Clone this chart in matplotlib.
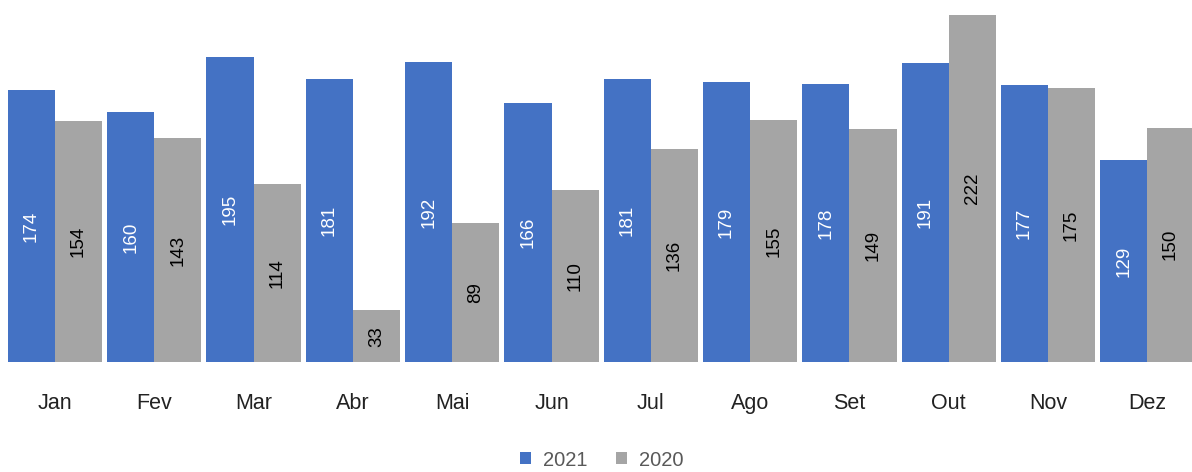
import numpy as np
import matplotlib.pyplot as plt

months = ['Jan', 'Fev', 'Mar', 'Abr', 'Mai', 'Jun', 'Jul', 'Ago', 'Set', 'Out', 'Nov', 'Dez']
values_2021 = [174, 160, 195, 181, 192, 166, 181, 179, 178, 191, 177, 129]
values_2020 = [154, 143, 114, 33, 89, 110, 136, 155, 149, 222, 175, 150]

BLUE = '#4472C4'
GRAY = '#A5A5A5'
WIDTH = 0.475

plt.rcParams['font.family'] = ['Liberation Sans', 'DejaVu Sans']

fig = plt.figure(figsize=(11.92, 4.72), dpi=100)
ax = fig.add_axes([0, 110 / 472, 1, 362 / 472])

x = np.arange(len(months))
bars_2021 = ax.bar(x - WIDTH / 2, values_2021, WIDTH, color=BLUE, label='2021')
bars_2020 = ax.bar(x + WIDTH / 2, values_2020, WIDTH, color=GRAY, label='2020')

ax.bar_label(bars_2021, label_type='center', rotation=90, color='white', fontsize=13.5)
ax.bar_label(bars_2020, label_type='center', rotation=90, color='black', fontsize=13.5)

ax.set_xlim(-0.554, 11.45)
ax.set_ylim(0, 231.6)
ax.set_xticks(x)
ax.set_xticklabels(months, fontsize=15.5, color='#222222')
ax.tick_params(axis='x', length=0, pad=22)
ax.set_yticks([])
for side in ['top', 'right', 'left', 'bottom']:
    ax.spines[side].set_visible(False)

fig.legend(handles=[bars_2021, bars_2020], loc='center', bbox_to_anchor=(0.505, 12 / 472),
           ncol=2, frameon=False, fontsize=14.5, handlelength=0.55, handleheight=0.55,
           handletextpad=0.6, columnspacing=1.4, labelcolor='#595959')

fig.savefig('out.png', dpi=100)
